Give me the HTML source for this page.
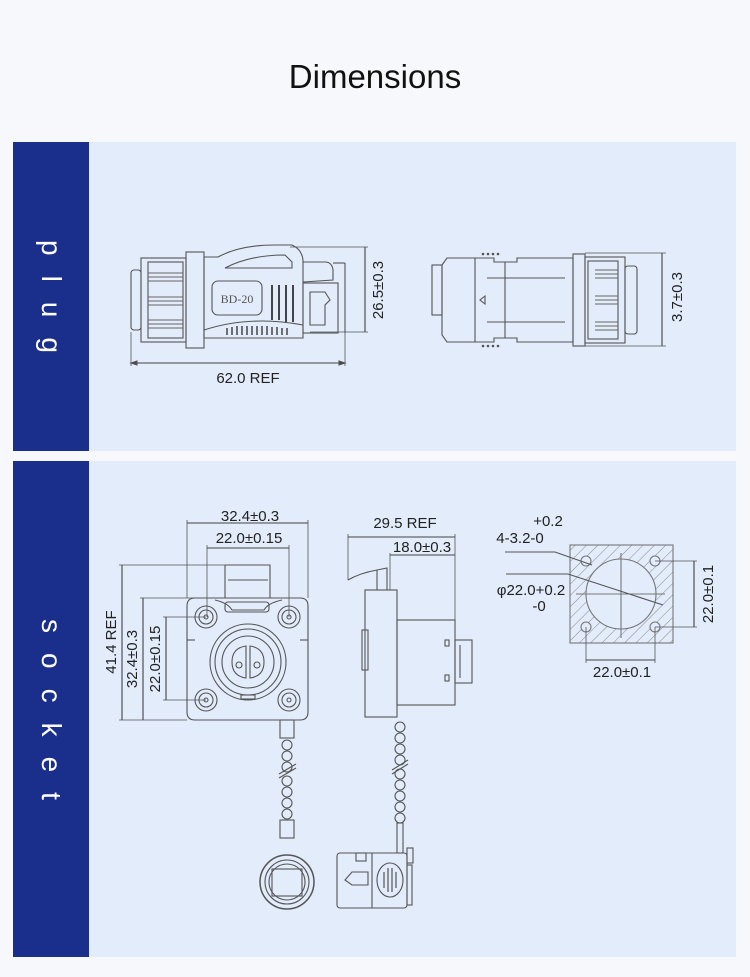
<!DOCTYPE html>
<html><head><meta charset="utf-8"><style>
html,body{margin:0;padding:0;background:#f6f8fb;width:750px;height:977px;overflow:hidden;font-family:"Liberation Sans",sans-serif}
.title{position:absolute;left:0;width:750px;top:58px;text-align:center;font-size:33px;color:#111}
.side{position:absolute;left:13px;width:76px;background:#1a2e8c}
.cont{position:absolute;left:89px;width:647px;background:#e2ecfa}
.vt{position:absolute;left:13px;width:76px;color:#fff;font-size:28px;letter-spacing:20px;writing-mode:vertical-rl;display:flex;align-items:center;justify-content:center}
svg{position:absolute;left:0;top:0}
</style></head><body>
<div class="title">Dimensions</div>
<div class="side" style="top:142px;height:309px"></div>
<div class="cont" style="top:142px;height:309px"></div>
<div class="side" style="top:461px;height:496px"></div>
<div class="cont" style="top:461px;height:496px"></div>
<div class="vt" style="top:152px;height:309px">plug</div>
<div class="vt" style="top:471px;height:496px">socket</div>
<svg width="750" height="977" viewBox="0 0 750 977" font-family="Liberation Sans, sans-serif" fill="none" stroke="#555" stroke-width="1.1">
<!-- plug left -->
<g>
<rect x="131" y="270" width="10" height="60" rx="3"/>
<rect x="141" y="258" width="45" height="84"/>
<rect x="148" y="262" width="35" height="76"/>
<g stroke="#666"><line x1="148" y1="273" x2="183" y2="273"/><line x1="148" y1="277" x2="183" y2="277"/><line x1="148" y1="281" x2="183" y2="281"/><line x1="148" y1="297" x2="183" y2="297"/><line x1="148" y1="301" x2="183" y2="301"/><line x1="148" y1="305" x2="183" y2="305"/><line x1="148" y1="320" x2="183" y2="320"/><line x1="148" y1="324" x2="183" y2="324"/><line x1="148" y1="328" x2="183" y2="328"/></g>
<rect x="186" y="252" width="18" height="96"/>
<path d="M204 257 L218 257 Q240 245 275 245 L292 245 Q303 250 303 262 L303 338 L204 338 Z"/>
<path d="M225 268 Q250 255 285 255 L292 262 L292 268 Z"/>
<rect x="212" y="281" width="50" height="34" rx="6"/>
<text x="237" y="303" fill="#555" stroke="none" font-family="Liberation Serif, serif" font-size="12" text-anchor="middle">BD-20</text>
<g stroke="#444" stroke-width="2"><line x1="272" y1="285" x2="272" y2="320"/><line x1="279" y1="285" x2="279" y2="320"/><line x1="286" y1="285" x2="286" y2="322"/><line x1="293" y1="285" x2="293" y2="322"/></g>
<path d="M204 330 Q250 315 303 325"/>
<g stroke="#444" stroke-width="1.5"><line x1="227" y1="328" x2="227" y2="335"/><line x1="232" y1="327" x2="232" y2="335"/><line x1="237" y1="326" x2="237" y2="335"/><line x1="242" y1="326" x2="242" y2="335"/><line x1="247" y1="326" x2="247" y2="335"/><line x1="252" y1="326" x2="252" y2="335"/><line x1="257" y1="326" x2="257" y2="335"/><line x1="262" y1="326" x2="262" y2="335"/><line x1="267" y1="326" x2="267" y2="335"/><line x1="272" y1="327" x2="272" y2="335"/><line x1="277" y1="327" x2="277" y2="335"/><line x1="282" y1="328" x2="282" y2="335"/><line x1="287" y1="328" x2="287" y2="335"/></g>
<path d="M303 262 L325 262 Q332 262 333 270 L333 280 L303 282"/>
<rect x="303" y="283" width="35" height="50"/>
<path d="M310 292 L325 292 L330 300 L325 305 L325 325 L310 325 Z"/>
<line x1="333" y1="263" x2="345" y2="263"/><line x1="345" y1="263" x2="345" y2="333"/>
<line x1="290" y1="247" x2="368" y2="247" stroke-width=".8"/>
<line x1="310" y1="332" x2="368" y2="332" stroke-width=".8"/>
<line x1="365" y1="247" x2="365" y2="332" stroke="#444"/>
<line x1="131" y1="332" x2="131" y2="366" stroke-width=".8"/>
<line x1="345" y1="333" x2="345" y2="366" stroke-width=".8"/>
<line x1="131" y1="363" x2="345" y2="363" stroke="#444"/>
<path d="M131 363 l6 -2 v4 z M345 363 l-6 -2 v4 z" fill="#444"/>
</g>
<text x="248" y="383" fill="#222" stroke="none" font-size="15" text-anchor="middle">62.0 REF</text>
<text transform="translate(383,290) rotate(-90)" fill="#222" stroke="none" font-size="15" text-anchor="middle">26.5±0.3</text>
<!-- plug right -->
<g>
<rect x="432" y="265" width="10" height="50"/>
<path d="M442 265 L447 258 L475 258 L475 342 L447 342 L442 335 Z"/>
<path d="M475 258 L494 258 L494 262 L517 262 L517 258 L573 258 L573 342 L517 342 L517 338 L494 338 L494 342 L475 342"/>
<line x1="505" y1="262" x2="505" y2="338"/>
<path d="M487 278 L565 278 M487 322 L565 322"/>
<path d="M485 296 L480 300 L485 304 Z"/>
<g fill="#555" stroke="none"><circle cx="483" cy="254" r="1.3"/><circle cx="488" cy="254" r="1.3"/><circle cx="493" cy="254" r="1.3"/><circle cx="498" cy="254" r="1.3"/><circle cx="483" cy="346" r="1.3"/><circle cx="488" cy="346" r="1.3"/><circle cx="493" cy="346" r="1.3"/><circle cx="498" cy="346" r="1.3"/></g>
<rect x="573" y="254" width="12" height="92"/>
<rect x="585" y="257" width="40" height="86"/>
<rect x="588" y="261" width="30" height="78"/>
<g stroke="#666"><line x1="595" y1="270" x2="618" y2="270"/><line x1="595" y1="274" x2="618" y2="274"/><line x1="595" y1="278" x2="618" y2="278"/><line x1="595" y1="296" x2="618" y2="296"/><line x1="595" y1="300" x2="618" y2="300"/><line x1="595" y1="304" x2="618" y2="304"/><line x1="595" y1="322" x2="618" y2="322"/><line x1="595" y1="326" x2="618" y2="326"/><line x1="595" y1="330" x2="618" y2="330"/></g>
<rect x="625" y="266" width="12" height="68" rx="3"/>
<line x1="585" y1="253" x2="666" y2="253" stroke-width=".8"/>
<line x1="585" y1="346" x2="666" y2="346" stroke-width=".8"/>
<line x1="662" y1="253" x2="662" y2="346" stroke="#444"/>
</g>
<text transform="translate(682,297) rotate(-90)" fill="#222" stroke="none" font-size="15" text-anchor="middle">3.7±0.3</text>
<!-- socket front -->
<g>
<path d="M225 565 L270 565 L270 598" /><line x1="225" y1="565" x2="225" y2="598"/>
<path d="M228 580 L268 580"/>
<path d="M195 598 L300 598 Q308 598 308 606 L308 712 Q308 720 300 720 L195 720 Q187 720 187 712 L187 606 Q187 598 195 598 Z"/>
<path d="M215 600 Q228 603 232 610 L264 610 Q268 603 282 600"/>
<rect x="225" y="602" width="44" height="10" rx="3"/>
<circle cx="206" cy="617" r="11"/><circle cx="206" cy="617" r="7"/><circle cx="206" cy="617" r="2"/>
<circle cx="289" cy="617" r="11"/><circle cx="289" cy="617" r="7"/><circle cx="289" cy="617" r="2"/>
<circle cx="206" cy="700" r="11"/><circle cx="206" cy="700" r="7"/><circle cx="206" cy="700" r="2"/>
<circle cx="289" cy="700" r="11"/><circle cx="289" cy="700" r="7"/><circle cx="289" cy="700" r="2"/>
<circle cx="248" cy="662" r="38"/><circle cx="248" cy="662" r="33"/><circle cx="248" cy="662" r="26"/>
<path d="M246 646 Q232 648 232 662 Q232 676 246 678 Z"/>
<path d="M250 646 Q264 648 264 662 Q264 676 250 678 Z"/>
<circle cx="239" cy="665" r="3"/><circle cx="257" cy="665" r="3"/>
<line x1="187" y1="640" x2="195" y2="640"/><line x1="300" y1="640" x2="308" y2="640"/>
<rect x="241" y="695" width="14" height="4"/>
<line x1="187" y1="520" x2="187" y2="598" stroke-width=".8"/>
<line x1="308" y1="520" x2="308" y2="598" stroke-width=".8"/>
<line x1="187" y1="523" x2="308" y2="523" stroke="#444"/>
<line x1="207" y1="545" x2="207" y2="617" stroke-width=".8"/>
<line x1="289" y1="545" x2="289" y2="617" stroke-width=".8"/>
<line x1="207" y1="548" x2="289" y2="548" stroke="#444"/>
<line x1="119" y1="565" x2="232" y2="565" stroke-width=".8"/>
<line x1="119" y1="720" x2="187" y2="720" stroke-width=".8"/>
<line x1="122" y1="565" x2="122" y2="720" stroke="#444"/>
<line x1="140" y1="598" x2="205" y2="598" stroke-width=".8"/>
<line x1="143" y1="598" x2="143" y2="720" stroke="#444"/>
<line x1="163" y1="617" x2="206" y2="617" stroke-width=".8"/>
<line x1="163" y1="700" x2="206" y2="700" stroke-width=".8"/>
<line x1="166" y1="617" x2="166" y2="700" stroke="#444"/>
</g>
<g fill="#222" stroke="none" font-size="15" text-anchor="middle">
<text x="250" y="521">32.4±0.3</text>
<text x="249" y="543">22.0±0.15</text>
<text transform="translate(116,642) rotate(-90)">41.4 REF</text>
<text transform="translate(137,659) rotate(-90)">32.4±0.3</text>
<text transform="translate(160,659) rotate(-90)">22.0±0.15</text>
<text x="405" y="528">29.5 REF</text>
<text x="422" y="552">18.0±0.3</text>
<text x="548" y="526">+0.2</text>
<text x="520" y="543">4-3.2-0</text>
<text x="531" y="595">φ22.0+0.2</text>
<text x="539" y="611">-0</text>
<text x="622" y="677">22.0±0.1</text>
<text transform="translate(713,594) rotate(-90)">22.0±0.1</text>
</g>
<!-- socket side -->
<g>
<line x1="348" y1="534" x2="348" y2="580" stroke-width=".8"/>
<line x1="455" y1="534" x2="455" y2="620" stroke-width=".8"/>
<line x1="348" y1="537" x2="455" y2="537" stroke="#444"/>
<line x1="390" y1="553" x2="390" y2="590" stroke-width=".8"/>
<line x1="390" y1="555" x2="455" y2="555" stroke="#444"/>
<path d="M348 580 Q360 573 377 570 L387 568 L387 590"/>
<line x1="377" y1="570" x2="377" y2="590"/>
<rect x="365" y="590" width="32" height="127"/>
<rect x="362" y="630" width="6" height="40"/>
<rect x="397" y="620" width="58" height="85"/>
<rect x="455" y="640" width="17" height="43"/>
<rect x="445" y="640" width="4" height="6"/><rect x="445" y="675" width="4" height="6"/>
<line x1="460" y1="645" x2="460" y2="678"/>
</g>
<!-- cutout -->
<defs><pattern id="h" width="8" height="8" patternUnits="userSpaceOnUse" patternTransform="rotate(45)"><line x1="0" y1="0" x2="0" y2="8" stroke="#888" stroke-width="1"/></pattern></defs>
<rect x="570" y="545" width="103" height="98" fill="url(#h)" stroke="#777"/>
<circle cx="621" cy="594" r="35" fill="#e2ecfa" stroke="#777"/>
<g fill="#e2ecfa" stroke="#777"><circle cx="586" cy="561" r="5"/><circle cx="655" cy="561" r="5"/><circle cx="586" cy="627" r="5"/><circle cx="655" cy="627" r="5"/></g>
<line x1="621" y1="553" x2="621" y2="638" stroke="#777"/><line x1="576" y1="594" x2="665" y2="594" stroke="#777"/>
<path d="M505 552 L555 552 L592 565" stroke="#555"/>
<path d="M506 574 L568 574 L663 605" stroke="#555"/>
<line x1="655" y1="561" x2="697" y2="561" stroke-width=".8"/>
<line x1="655" y1="627" x2="697" y2="627" stroke-width=".8"/>
<line x1="694" y1="561" x2="694" y2="627" stroke="#444"/>
<line x1="586" y1="627" x2="586" y2="663" stroke-width=".8"/>
<line x1="655" y1="627" x2="655" y2="663" stroke-width=".8"/>
<line x1="586" y1="660" x2="655" y2="660" stroke="#444"/>
<!-- chains -->
<g stroke="#555">
<rect x="280" y="720" width="14" height="18"/>
<circle cx="287" cy="745" r="5"/><circle cx="287" cy="756" r="5"/><circle cx="287" cy="767" r="5"/><circle cx="287" cy="781" r="5"/><circle cx="287" cy="792" r="5"/><circle cx="287" cy="803" r="5"/><circle cx="287" cy="814" r="5"/>
<line x1="279" y1="774" x2="296" y2="764"/><line x1="279" y1="778" x2="296" y2="768"/>
<rect x="280" y="820" width="14" height="18"/>
<circle cx="287" cy="882" r="27" stroke-width="1.5"/><circle cx="287" cy="882" r="22"/><circle cx="287" cy="882" r="18"/>
<rect x="272" y="869" width="30" height="27"/>
<circle cx="400" cy="727" r="5"/><circle cx="400" cy="738" r="5"/><circle cx="400" cy="749" r="5"/><circle cx="400" cy="760" r="5"/><circle cx="400" cy="774" r="5"/><circle cx="400" cy="785" r="5"/><circle cx="400" cy="796" r="5"/><circle cx="400" cy="807" r="5"/><circle cx="400" cy="818" r="5"/>
<line x1="392" y1="770" x2="408" y2="760"/><line x1="392" y1="774" x2="408" y2="764"/>
<rect x="397" y="823" width="6" height="30"/>
<rect x="337" y="853" width="70" height="55" rx="3"/>
<line x1="372" y1="853" x2="372" y2="908"/>
<rect x="356" y="853" width="10" height="8"/>
<path d="M345 880 L352 872 L368 872 L368 885 L352 885 Z"/>
<ellipse cx="390" cy="880" rx="13" ry="17"/>
<g stroke-width="1.2"><line x1="384" y1="872" x2="384" y2="888"/><line x1="388" y1="868" x2="388" y2="892"/><line x1="392" y1="868" x2="392" y2="892"/><line x1="396" y1="872" x2="396" y2="888"/></g>
<rect x="407" y="848" width="6" height="15"/><rect x="407" y="865" width="5" height="40"/>
</g>
</svg>
</body></html>
